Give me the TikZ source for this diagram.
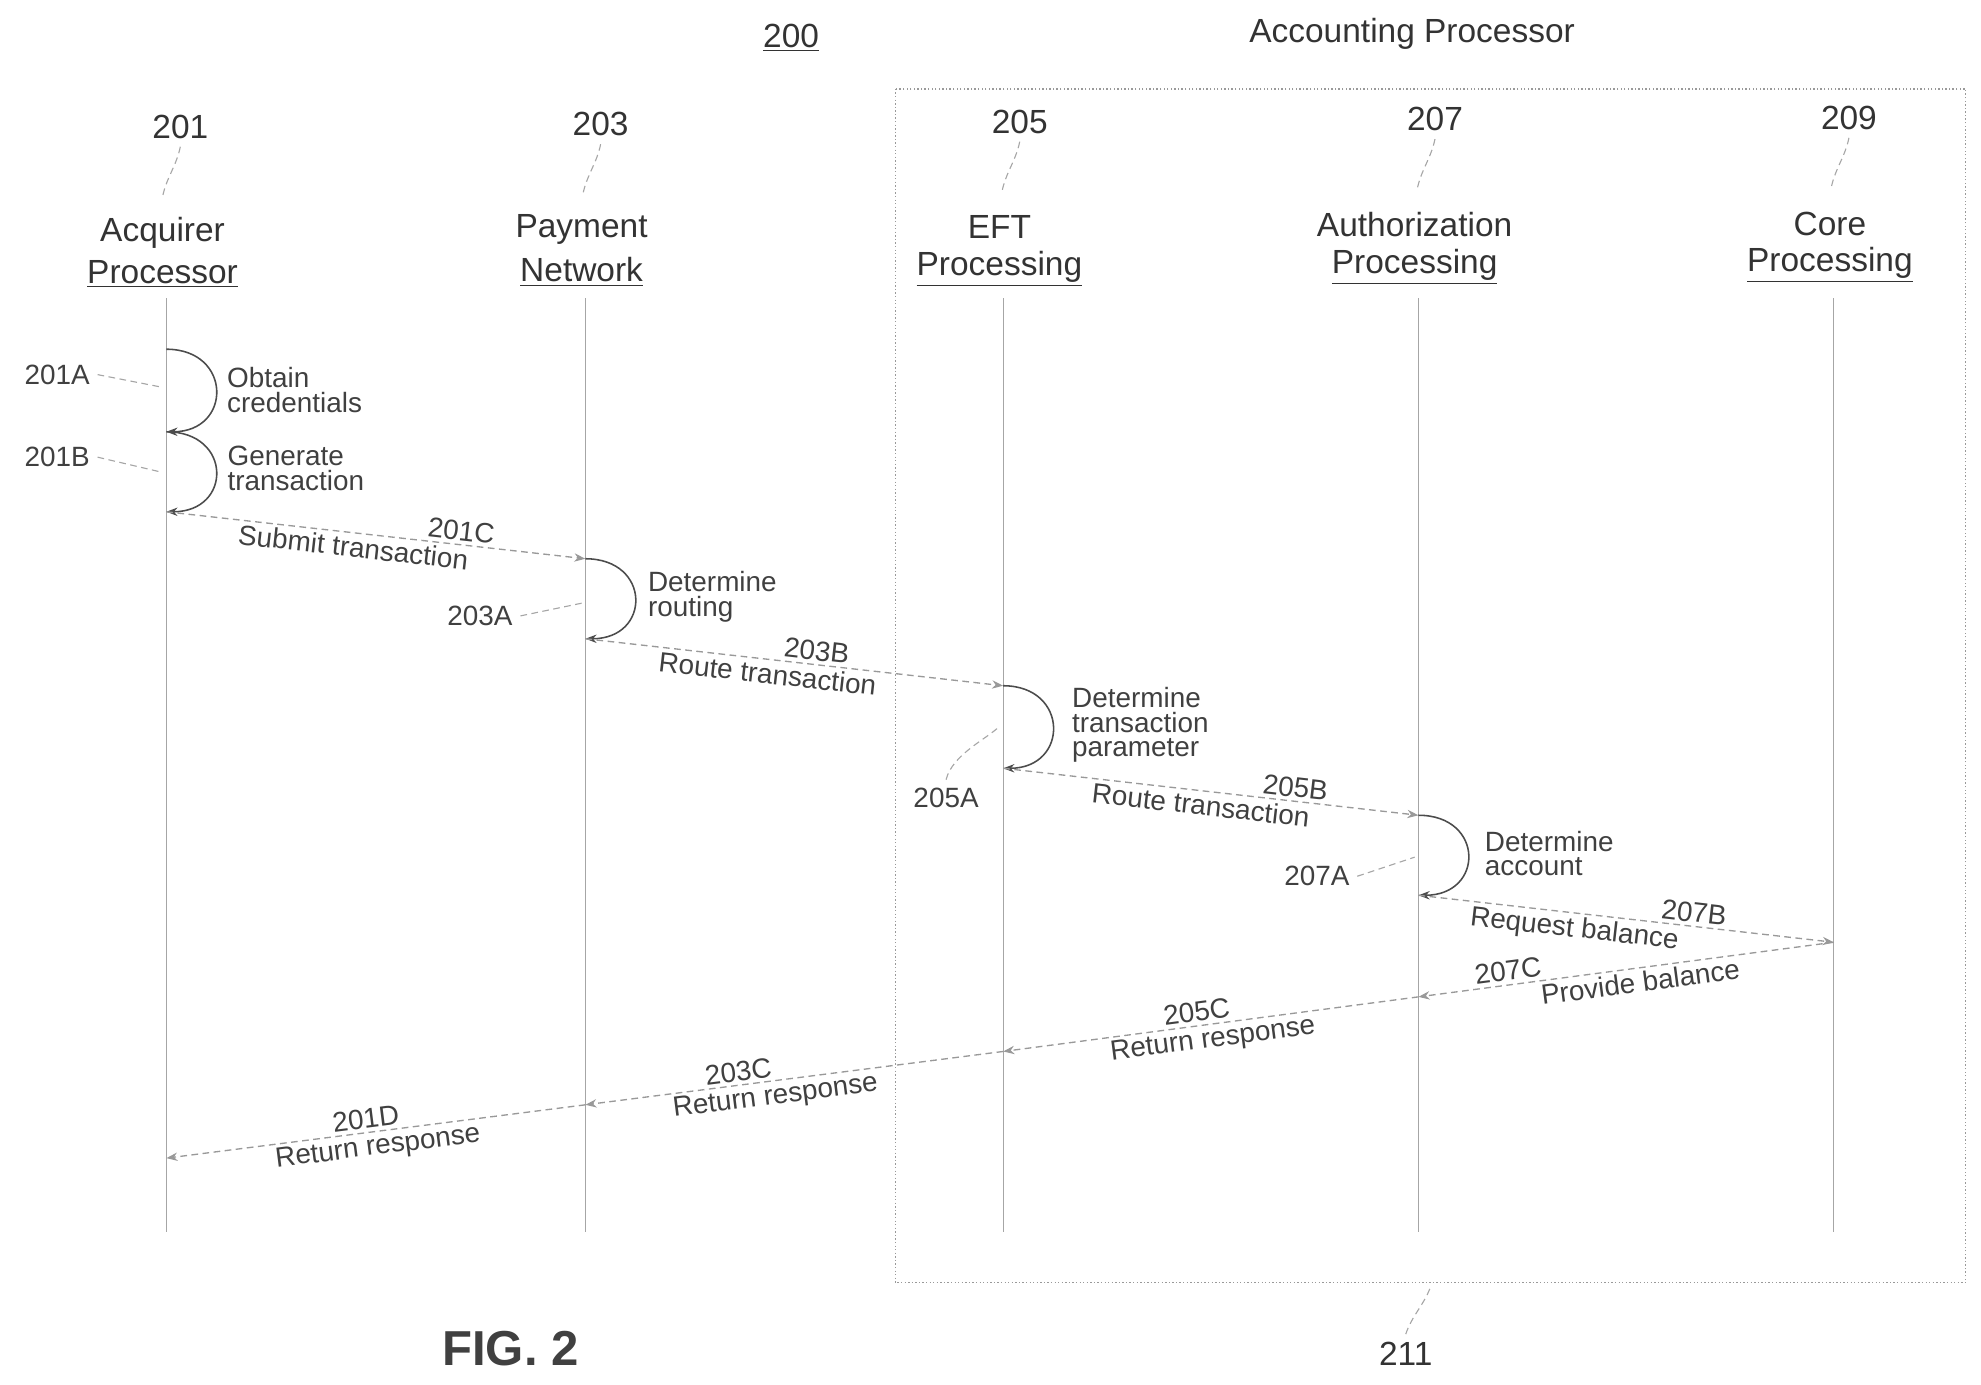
\documentclass[tikz,border=0pt]{standalone}
\usepackage{fontspec}
\setmainfont{Liberation Sans}
\usetikzlibrary{arrows.meta}
\begin{document}
\begin{tikzpicture}[x=0.02cm,y=-0.02cm,
  hd/.style={font=\fontsize{15}{17}\selectfont, text=black!80},
  lb/.style={font=\fontsize{12.5}{14}\selectfont, text=black!75, align=left},
  ml/.style={lb, sloped, inner sep=1.5pt},
  life/.style={gray!70, line width=0.6pt},
  msg/.style={densely dashed, gray!80, line width=0.6pt, -{Stealth[length=5pt]}},
  loop/.style={black!70, line width=0.7pt, -{Stealth[length=5pt]}},
  sq/.style={gray!70, line width=0.5pt, densely dashed}]
\useasboundingbox (0,0) rectangle (1560,1090);
% title
\node[hd] (t200) at (623,30) {\underline{200}};
\node[hd] (tacc) at (1112,27) {Accounting Processor};
\draw[densely dotted, gray!80, line width=0.6pt] (705,70) rectangle (1548,1010);
\coordinate (boxb) at (1127,1012);
\node[hd] (t211) at (1107,1066) {211};
\draw[sq] (t211.north) .. controls +(5,-15) and +(-5,15) .. (boxb);
\node[font=\bfseries\fontsize{22}{24}\selectfont, text=black!75] (fig) at (402,1062) {FIG. 2};
% headers
\foreach \n/\x/\num/\nx/\ny/\la/\lb in {a/131/201/142/100/Acquirer/Processor,
  b/461/203/473/98/Payment/Network, c/790/205/803/96/EFT/Processing,
  d/1117/207/1130/94/Authorization/Processing, e/1444/209/1456/93/Core/Processing}{
  \node[hd] (n\n) at (\nx,\ny) {\num};
  \node[hd] (h\n) at (\x-3,\ny+83) {\la};
  \node[hd] (u\n) at (\x-3,\ny+116) {\underline{\lb}};
  \draw[sq] (n\n.south) .. controls +(-3,15) and +(3,-15) .. (\nx-14,\ny+55);
  \draw[life] (\x,235) -- (\x,970);
}
% points
\coordinate (p1) at (131,275); \coordinate (p2) at (131,340); \coordinate (p3) at (131,403);
\coordinate (q1) at (461,440); \coordinate (q2) at (461,503);
\coordinate (r1) at (790,540); \coordinate (r2) at (790,605);
\coordinate (s1) at (1117,642); \coordinate (s2) at (1117,705);
\coordinate (t1) at (1444,742);
\coordinate (s3) at (1117,785); \coordinate (r3) at (790,828);
\coordinate (q3) at (461,870); \coordinate (p4) at (131,912);
% loops
\draw[loop] (p1) .. controls +(52,0) and +(52,0) .. (p2);
\draw[loop] (p2) .. controls +(52,0) and +(52,0) .. (p3);
\draw[loop] (q1) .. controls +(52,0) and +(52,0) .. (q2);
\draw[loop] (r1) .. controls +(52,0) and +(52,0) .. (r2);
\draw[loop] (s1) .. controls +(52,0) and +(52,0) .. (s2);
\node[lb] (l1) at (232,307) {Obtain\\[-3pt]credentials};
\node[lb] (l2) at (233,369) {Generate\\[-3pt]transaction};
\node[lb] (l3) at (561,470) {Determine\\[-3pt]routing};
\node[lb] (l4) at (898,571) {Determine\\[-3pt]transaction\\[-3pt]parameter};
\node[lb] (l5) at (1220,672) {Determine\\[-3pt]account};
\node[lb] (k1) at (45,295) {201A}; \draw[sq] (k1.east) -- (128,305);
\node[lb] (k2) at (45,360) {201B}; \draw[sq] (k2.east) -- (128,372);
\node[lb] (k3) at (378,485) {203A}; \draw[sq] (k3.east) -- (458,475);
\node[lb] (k4) at (745,628) {205A}; \draw[sq] (k4.north) .. controls +(5,-20) and +(-10,10) .. (787,572);
\node[lb] (k5) at (1037,690) {207A}; \draw[sq] (k5.east) -- (1114,675);
% messages
\draw[msg] (p3) -- node[ml,above,pos=0.7]{201C} node[ml,below,pos=0.45]{Submit transaction} (q1);
\draw[msg] (q2) -- node[ml,above,pos=0.55]{203B} node[ml,below,pos=0.44]{Route transaction} (r1);
\draw[msg] (r2) -- node[ml,above,pos=0.7]{205B} node[ml,below,pos=0.48]{Route transaction} (s1);
\draw[msg] (s2) -- node[ml,above,pos=0.66]{207B} node[ml,below,pos=0.38]{Request balance} (t1);
\draw[msg] (t1) -- node[ml,above,pos=0.78]{207C} node[ml,below,pos=0.47]{Provide balance} (s3);
\draw[msg] (s3) -- node[ml,above,pos=0.53]{205C} node[ml,below,pos=0.5]{Return response} (r3);
\draw[msg] (r3) -- node[ml,above,pos=0.63]{203C} node[ml,below,pos=0.55]{Return response} (q3);
\draw[msg] (q3) -- node[ml,above,pos=0.52]{201D} node[ml,below,pos=0.5]{Return response} (p4);
\end{tikzpicture}
\end{document}
